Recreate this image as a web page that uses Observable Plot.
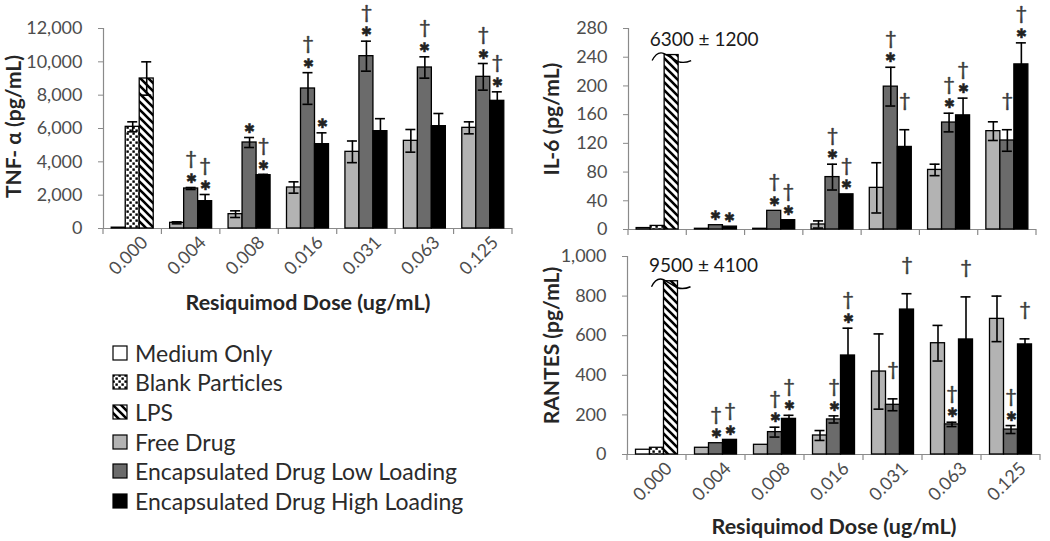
<!DOCTYPE html>
<html><head><meta charset="utf-8">
<script src="https://cdn.jsdelivr.net/npm/d3@7"></script>
<script src="https://cdn.jsdelivr.net/npm/@observablehq/plot@0.6"></script>
<style>
body{margin:0;background:#fff;}
#wrap{position:relative;width:1050px;height:541px;overflow:hidden;font-family:Lato,"Open Sans",sans-serif;background:#fff;}
.panel{position:absolute;}
#legend{position:absolute;left:112px;top:338px;font-size:23px;color:#2b2b2b;}
.item{display:flex;align-items:center;height:29.6px;white-space:nowrap;}
.item svg{margin-right:7px;flex:none;}
</style></head><body>
<svg width="0" height="0" style="position:absolute">
<defs>
<pattern id="dots" patternUnits="userSpaceOnUse" width="6" height="6"><rect width="6" height="6" fill="#fff"/><rect x="0.4" y="0.4" width="2.4" height="2.4" fill="#000"/><rect x="3.4" y="3.4" width="2.4" height="2.4" fill="#000"/></pattern>
<pattern id="hatch" patternUnits="userSpaceOnUse" width="8" height="8"><rect width="8" height="8" fill="#fff"/><path d="M-2,-2L10,10M-2,6L2,10M6,-2L10,2" stroke="#000" stroke-width="2.6"/></pattern>
</defs></svg>
<div id="wrap">
  <div id="tnf" class="panel" style="left:0;top:0"></div>
  <div id="il6" class="panel" style="left:520px;top:0"></div>
  <div id="rantes" class="panel" style="left:520px;top:240px"></div>
  <div id="legend"></div>
</div>
<script>
// ---------- data ----------
const doses = ["0.000","0.004","0.008","0.016","0.031","0.063","0.125"];
const seriesNames = ["Medium Only","Blank Particles","LPS","Free Drug","Encapsulated Drug Low Loading","Encapsulated Drug High Loading"];

// TNF-alpha (pg/mL)
const tnfControl = [50, 6100, 9000];
const tnfControlErr = [0, 300, 1000];
const tnfFree = [340, 860, 2460, 4600, 5260, 6040];
const tnfFreeErr = [60, 200, 340, 650, 680, 360];
const tnfLow = [2400, 5160, 8400, 10340, 9660, 9100];
const tnfLowErr = [60, 300, 950, 900, 640, 800];
const tnfHigh = [1640, 3200, 5060, 5840, 6140, 7660];
const tnfHighErr = [400, 50, 680, 750, 760, 540];
const tnfFreeSig = ["", "", "", "", "", ""];
const tnfLowSig = ["*†", "*", "*†", "*†", "*†", "*†"];
const tnfHighSig = ["*†", "*†", "*", "", "", "*†"];

// IL-6 (pg/mL)
const il6Control = [2, 5, 6300];
const il6ControlErr = [0, 0, 1200];
const il6Free = [1, 1, 7, 58, 83, 137];
const il6FreeErr = [0, 0, 5, 35, 8, 13];
const il6Low = [6, 26, 73, 199, 149, 124];
const il6LowErr = [0, 0, 18, 27, 13, 15];
const il6High = [4, 13, 49, 115, 159, 230];
const il6HighErr = [0, 0, 0, 24, 24, 30];
const il6FreeSig = ["", "", "", "", "", ""];
const il6LowSig = ["*", "*†", "*†", "*†", "*†", "†"];
const il6HighSig = ["*", "*†", "*†", "†", "*†", "*†"];
const il6LpsShown = 243;

// RANTES (pg/mL)
const ranControl = [24, 34, 9500];
const ranControlErr = [0, 0, 4100];
const ranFree = [34, 49, 96, 419, 562, 685];
const ranFreeErr = [0, 0, 25, 190, 90, 115];
const ranLow = [57, 113, 177, 251, 152, 126];
const ranLowErr = [0, 25, 18, 30, 11, 20];
const ranHigh = [74, 180, 500, 732, 581, 556];
const ranHighErr = [0, 18, 138, 80, 215, 28];
const ranFreeSig = ["", "", "", "", "", ""];
const ranLowSig = ["*†", "*†", "*†", "†", "*†", "*†"];
const ranHighSig = ["*†", "*†", "*†", "†", "†", "†"];
const ranLpsShown = 875;

// ---------- styles ----------
const seriesFill = ["#ffffff", "url(#dots)", "url(#hatch)", "#b3b3b3", "#6b6b6b", "#000000"];
const axisColor = "#8a8a8a";
const tickText = "#4d4d4d";

function buildRows(control, controlErr, groups, brokenShown) {
  const rows = [];
  control.forEach((v, i) => {
    const broken = i === 2 && brokenShown != null;
    rows.push({dose: doses[0], s: i, value: v, shown: broken ? brokenShown : v, err: controlErr[i], sig: "", broken,
      label: broken ? `${v} ± ${controlErr[i]}` : ""});
  });
  groups.forEach(([vals, errs, sigs], k) => vals.forEach((v, j) => {
    rows.push({dose: doses[j + 1], s: 3 + k, value: v, shown: v, err: errs[j], sig: sigs[j], broken: false, label: ""});
  }));
  return rows;
}

function panel(el, cfg) {
  const {rows, width, height, ml, mr, mt, mb, yMax, yTicks, fmt, yLabel, yLabelDx, xLabel} = cfg;
  const bw = (width - ml - mr) / doses.length;
  const barW = 14, capW = 10;
  const inset = (bw - barW) / 2, capInset = (bw - capW) / 2;
  const marks = [];
  // axis lines
  marks.push(Plot.ruleY([0], {stroke: axisColor, strokeWidth: 1.2}));
  marks.push(Plot.ruleX([doses[0]], {x: d => d, y1: 0, y2: yMax, dx: -bw / 2, stroke: axisColor, strokeWidth: 1.2}));
  // category boundary ticks
  marks.push((index, scales) => {
    const g = d3.create("svg:g");
    const x = scales.x, y0 = scales.y(0);
    const xs = doses.map(d => x(d)).concat([x(doses[doses.length - 1]) + x.bandwidth()]);
    for (const xx of xs) g.append("line").attr("x1", xx).attr("x2", xx).attr("y1", y0).attr("y2", y0 + 6)
      .attr("stroke", axisColor).attr("stroke-width", 1.2);
    return g.node();
  });
  marks.push(Plot.axisY({ticks: yTicks, tickFormat: fmt, tickSize: 5, tickPadding: 16, label: null, stroke: axisColor, fill: tickText}));
  if (cfg.showX) {
    marks.push(Plot.axisX({tickSize: 0, tickRotate: -45, tickPadding: 4, dx: 12, dy: 7, label: null, fill: tickText}));
    marks.push(Plot.text([xLabel], {frameAnchor: "bottom", lineAnchor: "middle", textAnchor: "middle", dy: cfg.xLabelDy, text: d => d, fontWeight: "bold", fontSize: 21.5, fill: "#262626"}));
  }
  marks.push(Plot.text([yLabel], {frameAnchor: "left", rotate: -90, textAnchor: "middle", lineAnchor: "middle", dx: yLabelDx, dy: cfg.yLabelDy || 0, text: d => d, fontWeight: "bold", fontSize: 21, fill: "#262626"}));
  // bars
  for (let s = 0; s < seriesNames.length; s++) {
    const slot = s % 3;
    marks.push(Plot.barY(rows.filter(r => r.s === s), {x: "dose", y: "shown", fill: seriesFill[s], stroke: "#000", strokeWidth: 1.3,
      insetLeft: inset, insetRight: inset, dx: (slot - 1) * barW}));
  }
  // error bars
  for (let slot = 0; slot < 3; slot++) {
    const er = rows.filter(r => r.s % 3 === slot && r.err > 0 && !r.broken);
    const dx = (slot - 1) * barW;
    marks.push(Plot.ruleX(er, {x: "dose", y1: r => Math.max(0, r.value - r.err), y2: r => r.value + r.err, dx, stroke: "#000", strokeWidth: 1.6}));
    marks.push(Plot.tickY(er, {x: "dose", y: r => r.value + r.err, dx, insetLeft: capInset, insetRight: capInset, stroke: "#000", strokeWidth: 1.6}));
    marks.push(Plot.tickY(er, {x: "dose", y: r => Math.max(0, r.value - r.err), dx, insetLeft: capInset, insetRight: capInset, stroke: "#000", strokeWidth: 1.6}));
    // significance markers
    const top = r => r.value + r.err;
    marks.push(Plot.text(rows.filter(r => r.s % 3 === slot && r.sig.includes("*")), {x: "dose", y: top, text: () => "✱", dx, dy: -9, fontSize: 13, fill: "#222", stroke: "#222", strokeWidth: 0.4}));
    marks.push(Plot.text(rows.filter(r => r.s % 3 === slot && r.sig.includes("†")), {x: "dose", y: top, text: () => "†", dx, dy: -29, fontSize: 20, fill: "#3a3a3a", stroke: "#3a3a3a", strokeWidth: 0.5}));
  }
  // broken (off-scale) bar markers
  const broken = rows.filter(r => r.broken);
  marks.push((index, scales) => {
    const g = d3.create("svg:g");
    for (const r of broken) {
      const x0 = scales.x(r.dose) + inset + (r.s % 3 - 1) * barW;
      const x1 = x0 + barW;
      const y = scales.y(r.shown);
      g.append("path").attr("fill", "none").attr("stroke", "#000").attr("stroke-width", 1.4)
        .attr("d", `M${x0 - 12},${y + 6} Q${x0 - 7},${y - 4} ${x0},${y - 1} L${x1},${y + 7} Q${x1 + 6},${y + 9} ${x1 + 13},${y + 6}`);
    }
    return g.node();
  });
  marks.push(Plot.text(broken, {x: "dose", y: "shown", text: "label", dx: -8, dy: -15, textAnchor: "start", fontSize: 19, fill: "#1a1a1a"}));

  const chart = Plot.plot({
    width, height, marginLeft: ml, marginRight: mr, marginTop: mt, marginBottom: mb,
    x: {domain: doses, padding: 0, round: false, axis: null},
    y: {domain: [0, yMax], axis: null},
    style: {fontFamily: "Lato, 'Open Sans', sans-serif", fontSize: "18px", background: "white", color: tickText},
    marks
  });
  el.appendChild(chart);
}

const fmtComma = d3.format(",");

panel(document.getElementById("tnf"), {
  rows: buildRows(tnfControl, tnfControlErr, [[tnfFree, tnfFreeErr, tnfFreeSig], [tnfLow, tnfLowErr, tnfLowSig], [tnfHigh, tnfHighErr, tnfHighSig]], null),
  width: 520, height: 320, ml: 103, mr: 8, mt: 28, mb: 92,
  yMax: 12000, yTicks: d3.range(0, 12001, 2000), fmt: fmtComma,
  yLabel: "TNF- α (pg/mL)", yLabelDx: -89, yLabelDy: -2, showX: true, xLabel: "Resiquimod Dose (ug/mL)", xLabelDy: 75
});

panel(document.getElementById("il6"), {
  rows: buildRows(il6Control, il6ControlErr, [[il6Free, il6FreeErr, il6FreeSig], [il6Low, il6LowErr, il6LowSig], [il6High, il6HighErr, il6HighSig]], il6LpsShown),
  width: 530, height: 240, ml: 108, mr: 14, mt: 28, mb: 11,
  yMax: 280, yTicks: d3.range(0, 281, 40), fmt: d3.format("d"),
  yLabel: "IL-6 (pg/mL)", yLabelDx: -76, yLabelDy: -10, showX: false
});

panel(document.getElementById("rantes"), {
  rows: buildRows(ranControl, ranControlErr, [[ranFree, ranFreeErr, ranFreeSig], [ranLow, ranLowErr, ranLowSig], [ranHigh, ranHighErr, ranHighSig]], ranLpsShown),
  width: 530, height: 301, ml: 107, mr: 10, mt: 16, mb: 87,
  yMax: 1000, yTicks: d3.range(0, 1001, 200), fmt: fmtComma,
  yLabel: "RANTES (pg/mL)", yLabelDx: -75, yLabelDy: -10, showX: true, xLabel: "Resiquimod Dose (ug/mL)", xLabelDy: 73
});

// legend
const legend = d3.select("#legend");
seriesNames.forEach((name, i) => {
  const item = legend.append("div").attr("class", "item");
  const sw = item.append("svg").attr("width", 16).attr("height", 16);
  sw.append("rect").attr("x", 1).attr("y", 1).attr("width", 14).attr("height", 14)
    .attr("fill", seriesFill[i]).attr("stroke", "#000").attr("stroke-width", 1.2);
  item.append("span").text(name);
});
</script>
</body></html>
